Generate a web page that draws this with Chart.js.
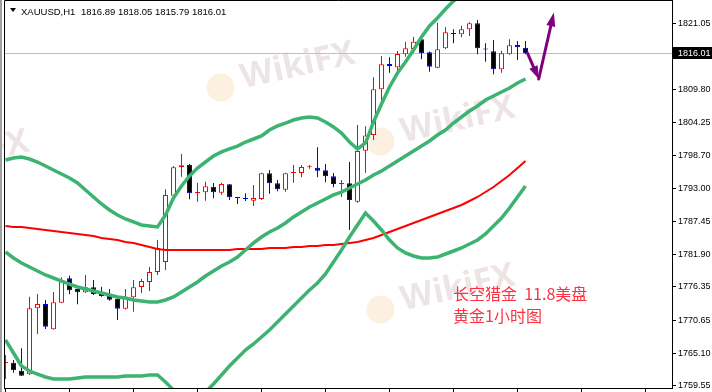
<!DOCTYPE html>
<html>
<head>
<meta charset="utf-8">
<script src="https://cdn.jsdelivr.net/npm/chart.js@4/dist/chart.umd.min.js"></script>
<style>
  html, body { margin: 0; padding: 0; background: #fff; }
  canvas { display: block; }
</style>
</head>
<body>
<canvas id="chart" width="712" height="392"></canvas>
<script>
// XAUUSD H1 candles
const symbol = 'XAUUSD,H1';
const openP = [
  1763.45, 1763.50, 1762.14, 1761.53, 1772.72, 1773.45, 1769.16, 1773.67, 1777.81, 1776.00,
  1775.44, 1776.29, 1775.44, 1774.81, 1774.35, 1772.66, 1774.59, 1776.34, 1777.18, 1778.88,
  1780.58, 1791.82, 1796.63, 1797.02, 1792.22, 1792.39, 1793.34, 1792.33, 1793.75, 1791.48,
  1791.31, 1790.97, 1791.26, 1795.62, 1793.92, 1792.83, 1795.67, 1795.67, 1796.62, 1796.56,
  1796.12, 1795.11, 1793.80, 1793.92, 1790.80, 1799.45, 1802.11, 1809.86, 1814.15, 1813.59,
  1815.79, 1816.69, 1818.34, 1816.13, 1813.52, 1816.81, 1819.29, 1819.18, 1820.03, 1821.05,
  1816.64, 1816.30, 1813.25, 1815.79, 1817.37, 1816.89
];
const highP = [
  1764.81, 1763.96, 1765.94, 1774.69, 1775.15, 1774.13, 1775.49, 1777.98, 1778.25, 1776.10,
  1778.37, 1777.52, 1776.39, 1776.00, 1774.50, 1776.00, 1777.52, 1777.69, 1779.73, 1784.31,
  1792.90, 1796.85, 1798.89, 1797.19, 1794.02, 1794.19, 1793.97, 1794.02, 1793.80, 1791.60,
  1792.22, 1793.63, 1795.70, 1796.17, 1794.48, 1795.70, 1797.02, 1797.02, 1797.02, 1800.02,
  1797.19, 1795.67, 1794.48, 1797.53, 1803.80, 1803.58, 1811.89, 1815.50, 1815.28, 1816.35,
  1817.93, 1818.78, 1818.50, 1816.25, 1821.15, 1820.37, 1820.03, 1820.64, 1821.22, 1821.61,
  1817.66, 1818.22, 1816.40, 1818.34, 1818.05, 1818.05
];
const lowP = [
  1760.74, 1761.80, 1761.25, 1761.40, 1768.37, 1769.21, 1769.10, 1773.60, 1775.10, 1773.40,
  1775.30, 1774.98, 1774.69, 1774.01, 1770.74, 1772.50, 1772.15, 1775.32, 1775.66, 1778.37,
  1779.22, 1791.43, 1795.04, 1791.21, 1790.80, 1790.97, 1791.38, 1791.99, 1791.09, 1790.41,
  1790.92, 1790.07, 1791.10, 1792.16, 1792.56, 1792.50, 1794.02, 1794.94, 1796.40, 1794.94,
  1794.09, 1793.24, 1791.60, 1786.00, 1790.60, 1795.72, 1801.26, 1807.76, 1812.67, 1812.57,
  1815.39, 1815.96, 1814.95, 1812.84, 1813.42, 1816.70, 1817.66, 1818.68, 1818.90, 1815.79,
  1814.54, 1812.40, 1812.67, 1815.70, 1814.83, 1815.79
];
const closeP = [
  1763.45, 1762.26, 1761.30, 1772.72, 1773.45, 1769.60, 1773.74, 1777.52, 1775.78, 1775.44,
  1776.29, 1775.15, 1774.81, 1774.18, 1772.66, 1774.64, 1776.29, 1777.35, 1778.88, 1782.95,
  1791.94, 1796.63, 1796.97, 1792.22, 1792.44, 1793.41, 1792.39, 1793.80, 1791.55, 1791.43,
  1791.26, 1791.43, 1795.62, 1793.92, 1792.90, 1795.62, 1795.67, 1796.68, 1796.75, 1796.06,
  1795.11, 1793.80, 1793.80, 1791.09, 1799.40, 1802.02, 1809.86, 1814.10, 1813.81, 1815.84,
  1816.81, 1817.93, 1815.96, 1813.69, 1816.64, 1819.52, 1819.25, 1820.03, 1821.05, 1816.81,
  1816.60, 1813.25, 1815.96, 1817.32, 1816.98, 1816.01
];

// Bollinger bands (green) and moving average (red)
const bandUpper = [
  1797.87, 1798.21, 1798.38, 1798.04, 1797.53, 1796.85, 1796.17, 1795.50, 1794.82, 1793.97,
  1792.78, 1791.60, 1790.41, 1789.39, 1788.54, 1787.87, 1787.36, 1786.85, 1786.68, 1786.51,
  1788.54, 1791.43, 1793.46, 1795.16, 1796.51, 1797.53, 1798.55, 1799.23, 1799.74, 1800.24,
  1800.92, 1801.43, 1801.94, 1802.96, 1803.64, 1804.14, 1804.65, 1804.99, 1805.16, 1804.99,
  1804.31, 1803.47, 1802.45, 1800.92, 1799.74, 1800.75, 1804.31, 1807.37, 1810.25, 1812.62,
  1814.49, 1816.52, 1818.73, 1820.59, 1821.95, 1823.47, 1824.83, 1825.85, 1826.87, 1827.71,
  1828.39, 1829.07, 1829.58, 1830.09, 1830.43, 1830.77
];
const bandMiddle = [
  1782.27, 1781.25, 1780.41, 1779.73, 1779.05, 1778.37, 1777.86, 1777.35, 1776.84, 1776.34,
  1776.00, 1775.66, 1775.32, 1774.98, 1774.64, 1774.47, 1774.13, 1773.96, 1773.79, 1773.79,
  1774.13, 1774.64, 1775.49, 1776.34, 1777.18, 1778.20, 1779.05, 1779.90, 1780.58, 1781.42,
  1782.61, 1783.80, 1784.81, 1785.66, 1786.34, 1787.19, 1788.21, 1789.05, 1789.90, 1790.58,
  1791.26, 1791.94, 1792.44, 1793.12, 1793.80, 1794.48, 1795.33, 1796.01, 1796.85, 1797.70,
  1798.55, 1799.40, 1800.24, 1801.09, 1802.11, 1802.96, 1804.14, 1805.16, 1806.18, 1807.03,
  1808.04, 1808.72, 1809.40, 1810.08, 1810.93, 1811.60
];
const bandLower = [
  1767.35, 1765.14, 1762.94, 1762.09, 1761.58, 1761.08, 1760.74, 1760.74, 1760.74, 1760.91,
  1761.08, 1761.08, 1761.08, 1761.08, 1761.08, 1761.25, 1761.25, 1761.25, 1761.42, 1761.42,
  1760.23, 1758.87, 1757.52, 1756.84, 1757.18, 1758.53, 1759.89, 1761.42, 1762.94, 1764.30,
  1765.65, 1766.67, 1767.86, 1769.05, 1770.40, 1771.76, 1773.11, 1774.47, 1775.83, 1777.01,
  1778.54, 1780.58, 1782.61, 1784.81, 1786.85, 1788.88, 1787.53, 1786.00, 1784.31, 1782.95,
  1782.10, 1781.59, 1781.25, 1781.25, 1781.42, 1781.93, 1782.44, 1782.95, 1783.63, 1784.31,
  1785.32, 1786.68, 1788.04, 1789.73, 1791.60, 1793.46
];
const maRed = [
  1786.68, 1786.51, 1786.51, 1786.34, 1786.17, 1786.00, 1785.83, 1785.66, 1785.49, 1785.32,
  1785.15, 1784.98, 1784.64, 1784.48, 1784.31, 1783.97, 1783.80, 1783.46, 1783.12, 1782.78,
  1782.61, 1782.61, 1782.61, 1782.61, 1782.61, 1782.61, 1782.61, 1782.61, 1782.61, 1782.78,
  1782.78, 1782.78, 1782.78, 1782.95, 1782.95, 1782.95, 1783.12, 1783.12, 1783.29, 1783.29,
  1783.46, 1783.46, 1783.63, 1783.80, 1783.97, 1784.31, 1784.64, 1785.15, 1785.66, 1786.17,
  1786.68, 1787.19, 1787.70, 1788.21, 1788.71, 1789.22, 1789.73, 1790.24, 1790.92, 1791.60,
  1792.44, 1793.29, 1794.31, 1795.33, 1796.51, 1797.70
];

const yTicks = [1759.55, 1765.10, 1770.65, 1776.35, 1781.90, 1787.45, 1793.00, 1798.70, 1804.25, 1809.80, 1821.05];
const xTicks = [0, 8, 16, 24, 32, 40, 48, 56, 64, 72, 80];
const lastPrice = 1816.01;
// purple hand-drawn arrow, in bar index / price units
const arrowPath = [{ x: 65.25, y: 1816.0 }, { x: 66.65, y: 1811.6 }, { x: 68.55, y: 1822.9 }];
const noteLines = ['长空猎金  11.8美盘', '黄金1小时图'];

const bullColor = '#ff0000';
const bearColor = '#0000ff';
const idx = openP.map((_, i) => i);
const isBull = idx.map(i => closeP[i] >= openP[i]);
const candleColor = idx.map(i => isBull[i] ? bullColor : bearColor);
const bodyFill = idx.map(i => {
  if (Math.abs(closeP[i] - openP[i]) < 0.2) return candleColor[i];
  return isBull[i] ? '#ffffff' : '#000000';
});

function lineSet(vals, color, width) {
  return {
    type: 'line',
    data: vals.map((v, i) => ({ x: i, y: v })),
    borderColor: color,
    borderWidth: width,
    pointRadius: 0,
    tension: 0,
    clip: 0,
    order: 0
  };
}

function drawMark(ctx, cx, cy) {
  ctx.save();
  ctx.translate(cx, cy);
  ctx.rotate(-0.22);
  ctx.fillStyle = 'rgba(240, 190, 120, 0.22)';
  ctx.beginPath();
  ctx.arc(-72, 4, 14, 0, Math.PI * 2);
  ctx.fill();
  ctx.fillStyle = 'rgba(190, 160, 160, 0.28)';
  ctx.font = 'bold 34px "Open Sans", sans-serif';
  ctx.textAlign = 'center';
  ctx.textBaseline = 'middle';
  ctx.fillText('WikiFX', 8, 0);
  ctx.restore();
}

function arrowHead(ctx, a, b, len, half) {
  const ang = Math.atan2(b.y - a.y, b.x - a.x);
  const bx = b.x - len * Math.cos(ang), by = b.y - len * Math.sin(ang);
  ctx.beginPath();
  ctx.moveTo(b.x, b.y);
  ctx.lineTo(bx + half * Math.sin(ang), by - half * Math.cos(ang));
  ctx.lineTo(bx - half * Math.sin(ang), by + half * Math.cos(ang));
  ctx.closePath();
  ctx.fill();
  return { x: bx, y: by };
}

const mt4Plugin = {
  id: 'mt4',
  beforeDraw(chart) {
    const ctx = chart.ctx;
    ctx.save();
    ctx.fillStyle = '#ffffff';
    ctx.fillRect(0, 0, chart.width, chart.height);
    ctx.fillStyle = '#a0a0a0';
    ctx.fillRect(0, 0, 2, chart.height);
    ctx.restore();
  },
  beforeDatasetsDraw(chart) {
    const ctx = chart.ctx, area = chart.chartArea;
    const y = chart.scales.y.getPixelForValue(lastPrice);
    ctx.save();
    drawMark(ctx, 290, 68);
    drawMark(ctx, 450, 122);
    drawMark(ctx, 450, 290);
    drawMark(ctx, -36, 156);
    ctx.strokeStyle = '#c0c0c0';
    ctx.lineWidth = 1;
    ctx.beginPath();
    ctx.moveTo(area.left, Math.round(y) + 0.5);
    ctx.lineTo(area.right, Math.round(y) + 0.5);
    ctx.stroke();
    ctx.restore();
  },
  afterDraw(chart) {
    const ctx = chart.ctx, area = chart.chartArea;
    const xs = chart.scales.x, ys = chart.scales.y;
    ctx.save();
    // frame
    ctx.strokeStyle = '#000';
    ctx.lineWidth = 1;
    ctx.beginPath();
    ctx.moveTo(4.5, area.bottom + 1);
    ctx.lineTo(4.5, 0.5);
    ctx.lineTo(area.right + 1, 0.5);
    ctx.stroke();

    // title
    ctx.fillStyle = '#000';
    ctx.beginPath();
    ctx.moveTo(10, 8); ctx.lineTo(16, 8); ctx.lineTo(13, 12);
    ctx.closePath();
    ctx.fill();
    ctx.font = '9.5px "Liberation Sans", Arial, sans-serif';
    ctx.textBaseline = 'alphabetic';
    const n = closeP.length - 1;
    ctx.fillText(symbol, 21, 15);
    ctx.fillText([openP[n], highP[n], lowP[n], closeP[n]].map(v => v.toFixed(2)).join(' '), 81, 15);

    // current price box
    ctx.font = '9px "Liberation Sans", Arial, sans-serif';
    const py = Math.round(ys.getPixelForValue(lastPrice));
    ctx.fillStyle = '#000';
    ctx.fillRect(area.right + 1, py - 6, chart.width - area.right - 1, 12);
    ctx.fillStyle = '#fff';
    ctx.textBaseline = 'middle';
    ctx.fillText(lastPrice.toFixed(2), area.right + 6, py + 0.5);

    // note
    ctx.fillStyle = '#ff3040';
    ctx.font = '16px "Noto Sans CJK SC", sans-serif';
    ctx.textBaseline = 'alphabetic';
    ctx.fillText(noteLines[0], 453, 300);
    ctx.fillText(noteLines[1], 453, 322);

    // arrow
    const pts = arrowPath.map(p => ({ x: xs.getPixelForValue(p.x), y: ys.getPixelForValue(p.y) }));
    ctx.strokeStyle = '#800080';
    ctx.fillStyle = '#800080';
    ctx.lineWidth = 3;
    ctx.lineCap = 'round';
    const b1 = arrowHead(ctx, pts[0], pts[1], 13, 4.5);
    ctx.beginPath();
    ctx.moveTo(pts[0].x, pts[0].y);
    ctx.lineTo(b1.x, b1.y);
    ctx.stroke();
    const b2 = arrowHead(ctx, pts[1], pts[2], 14, 4.5);
    ctx.beginPath();
    ctx.moveTo(pts[1].x, pts[1].y);
    ctx.lineTo(b2.x, b2.y);
    ctx.stroke();
    ctx.restore();
  }
};

const chart = new Chart(document.getElementById('chart'), {
  type: 'bar',
  data: {
    datasets: [
      lineSet(bandUpper, '#3cb371', 3.5),
      lineSet(bandMiddle, '#3cb371', 3.5),
      lineSet(bandLower, '#3cb371', 3.5),
      lineSet(maRed, '#ff0000', 2),
      {
        data: idx.map(i => ({ x: i, y: [Math.min(openP[i], closeP[i]), Math.max(openP[i], closeP[i])] })),
        backgroundColor: bodyFill,
        borderColor: candleColor,
        borderWidth: 1,
        borderSkipped: false,
        barThickness: 5,
        minBarLength: 1,
        grouped: false,
        inflateAmount: 0,
        order: 1
      },
      {
        data: idx.map(i => ({ x: i, y: [lowP[i], highP[i]] })),
        backgroundColor: candleColor,
        borderWidth: 0,
        barThickness: 1,
        grouped: false,
        inflateAmount: 0,
        order: 2
      }
    ]
  },
  options: {
    responsive: false,
    animation: false,
    events: [],
    layout: { autoPadding: false, padding: { left: 5, top: 1, right: 0, bottom: 0 } },
    plugins: { legend: { display: false }, tooltip: { enabled: false } },
    scales: {
      x: {
        type: 'linear',
        min: -0.0625,
        max: 83.3125,
        offset: false,
        grid: { offset: false, drawOnChartArea: false, drawTicks: true, tickLength: 4, color: '#000' },
        border: { color: '#000', width: 1 },
        ticks: { display: false },
        afterBuildTicks: s => { s.ticks = xTicks.map(v => ({ value: v })); },
        afterFit: s => { s.height = 4; s.paddingLeft = 0; s.paddingRight = 0; }
      },
      y: {
        position: 'right',
        min: 1759.21,
        max: 1824.83,
        grid: { drawOnChartArea: false, drawTicks: true, tickLength: 4, color: '#000' },
        border: { color: '#000', width: 1 },
        ticks: {
          color: '#000',
          padding: 2,
          font: { family: '"Liberation Sans", Arial, sans-serif', size: 9 },
          callback: v => v.toFixed(2)
        },
        afterBuildTicks: s => { s.ticks = yTicks.map(v => ({ value: v })); },
        afterFit: s => { s.width = 40; s.paddingTop = 0; s.paddingBottom = 0; }
      }
    }
  },
  plugins: [mt4Plugin]
});
</script>
</body>
</html>
